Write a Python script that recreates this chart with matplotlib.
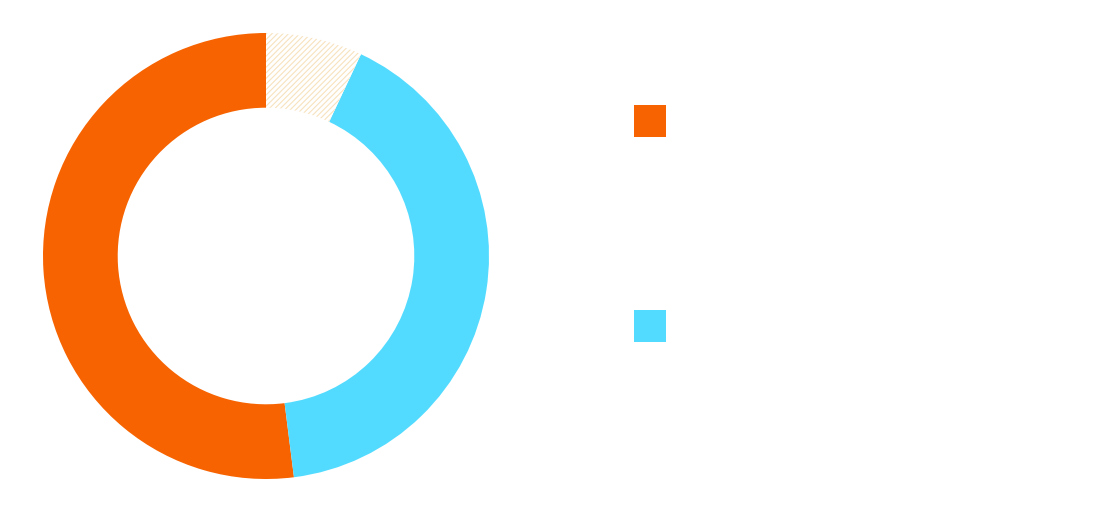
import matplotlib
matplotlib.use("Agg")
import matplotlib.pyplot as plt
from matplotlib.patches import Rectangle

labels = ["Strongly agree", "Somewhat agree", "Other"]
values = [52, 41, 7]
colors = ["#F76300", "#52DBFF", "#FFFFFF"]
pct_labels = ["52%", "41%"]

W, H = 1094, 525
plt.rcParams["hatch.linewidth"] = 0.8
fig = plt.figure(figsize=(W / 100, H / 100), dpi=100)
fig.patch.set_facecolor("white")

# donut axes: centre ~ (266, 256) px, outer radius ~223 px
ax = fig.add_axes([43 / W, (H - 479) / H, 446 / W, 446 / H])
wedges, _ = ax.pie(values, colors=colors, startangle=90, counterclock=True,
                   radius=1.0, wedgeprops=dict(width=0.335, linewidth=0))
wedges[2].set_hatch("//////")
wedges[2].set_edgecolor("#F7E2BE")
wedges[2].set_linewidth(0)
ax.set_xlim(-1, 1)
ax.set_ylim(-1, 1)
ax.set_aspect("equal")
ax.axis("off")

# legend (text is white, as in the original)
rows_y = [105, 310]
for i, y in enumerate(rows_y):
    fig.add_artist(Rectangle((634 / W, 1 - (y + 32) / H), 32 / W, 32 / H,
                             transform=fig.transFigure, color=colors[i], lw=0))
    fig.text(700 / W, 1 - (y - 17) / H, pct_labels[i], color="white",
             fontsize=60, va="top", ha="left")
    fig.text(700 / W, 1 - (y + 73) / H, labels[i], color="white",
             fontsize=27, va="top", ha="left")

fig.savefig("out.png", dpi=100, facecolor="white")
